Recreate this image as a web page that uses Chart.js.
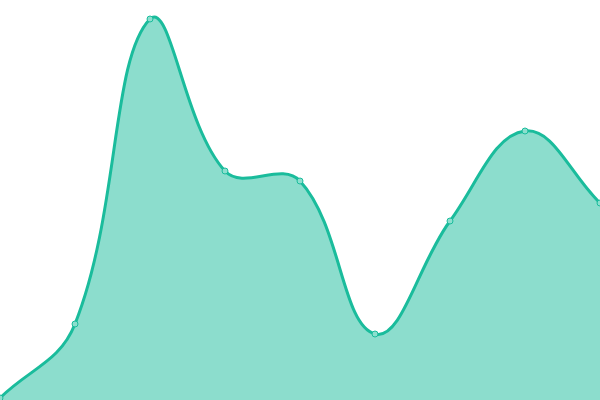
<!DOCTYPE html>
<html>
<head>
<meta charset="utf-8">
<script src="https://cdn.jsdelivr.net/npm/chart.js@4"></script>
<style>
  html, body { margin: 0; padding: 0; background: #fff; }
  #wrap { width: 600px; height: 400px; }
</style>
</head>
<body>
<div id="wrap"><canvas id="chart"></canvas></div>
<script>
// Chart data
var labels = ['1', '2', '3', '4', '5', '6', '7', '8', '9'];
var values = [2, 76, 381, 229, 219, 66, 179, 269, 197];
var yMin = 0;
var yMax = 400;

var ctx = document.getElementById('chart').getContext('2d');

var areaChart = new Chart(ctx, {
   type: 'line',
   data: {
      labels: labels,
      datasets: [{
         data: values,
         fill: true,
         tension: 0.4,
         borderColor: '#1abc9c',
         borderWidth: 3,
         backgroundColor: 'rgba(26, 188, 156, 0.5)',
         pointRadius: 3,
         pointBorderWidth: 1,
         pointBackgroundColor: '#8cdfce',
         pointBorderColor: '#1abc9c'
      }]
   },
   options: {
      responsive: true,
      maintainAspectRatio: false,
      animation: false,
      layout: { padding: 0, autoPadding: false },
      plugins: {
         legend: { display: false },
         tooltip: { enabled: false }
      },
      scales: {
         x: { display: false },
         y: { display: false, min: yMin, max: yMax }
      }
   }
});
</script>
</body>
</html>
